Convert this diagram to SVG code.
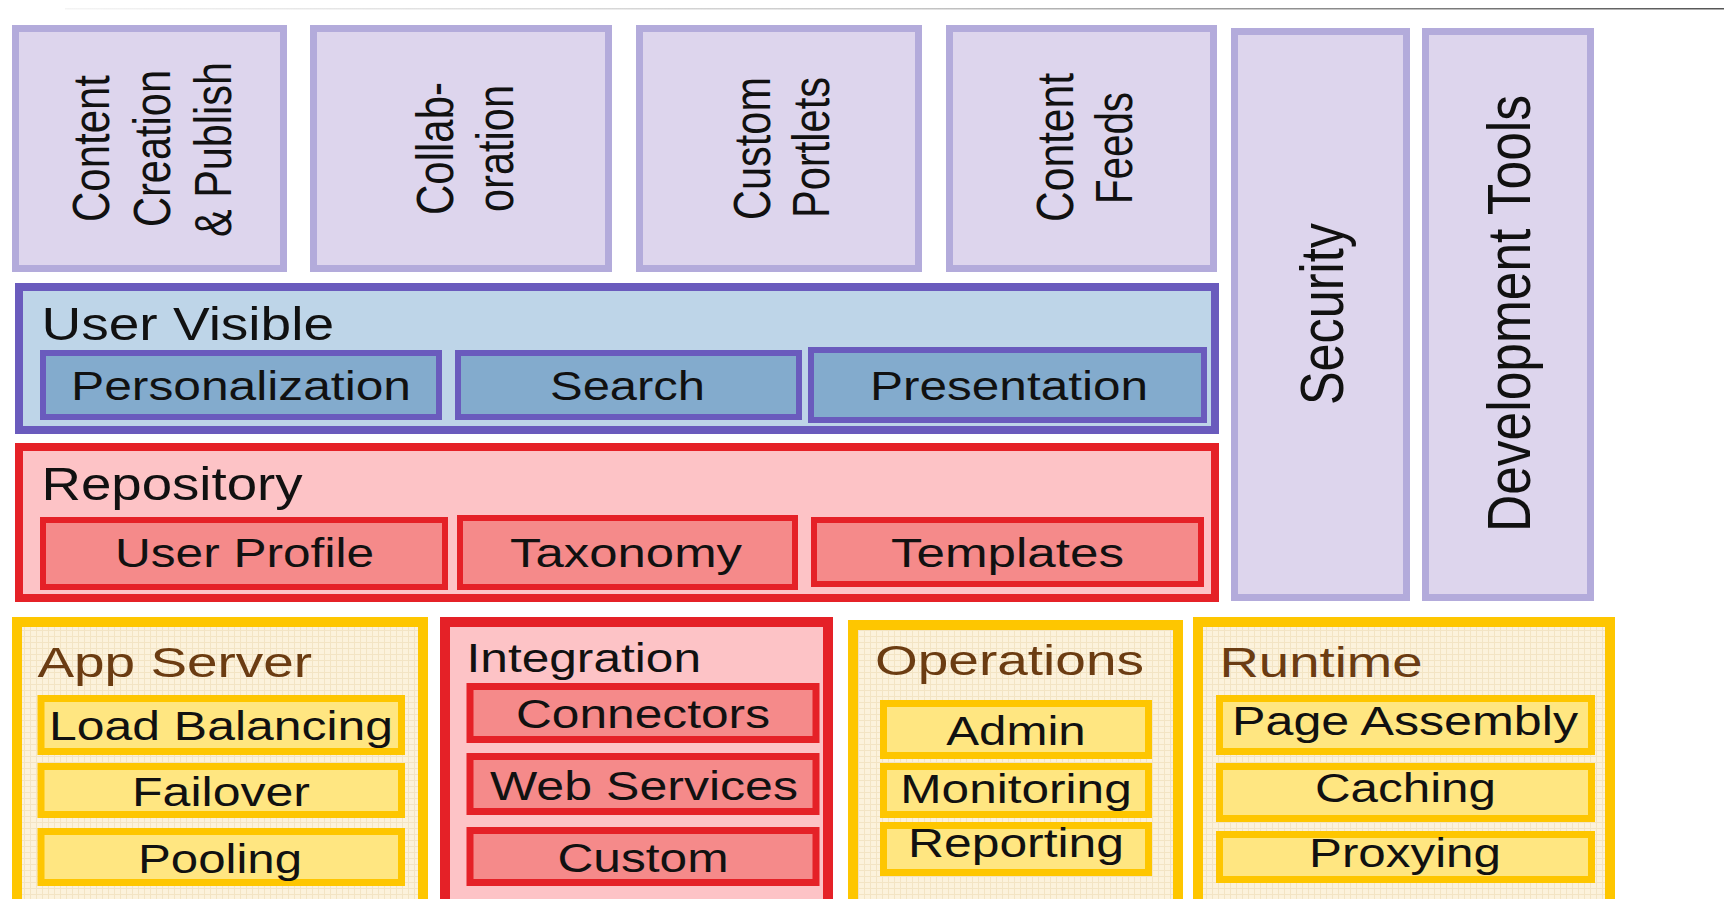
<svg xmlns="http://www.w3.org/2000/svg" width="1724" height="899" viewBox="0 0 1724 899">
<style>
text{font-family:"Liberation Sans",Arial,sans-serif;fill:#111;}
.lav{fill:#ddd5ed;stroke:#b3abdb;stroke-width:7;}
.uv{fill:#bed5e8;stroke:#6a5bbd;stroke-width:8;}
.uvs{fill:#83abcd;stroke:#6a5bbd;stroke-width:6;}
.rep{fill:#fdc3c6;stroke:#e52127;stroke-width:8;}
.reps{fill:#f58a8a;stroke:#e52127;stroke-width:6;}
.intg{fill:#fdc3c6;stroke:#e52127;stroke-width:10;}
.ints{fill:#f58a8a;stroke:#e52127;stroke-width:7;}
.yel{fill:url(#grid);stroke:#fec600;stroke-width:10;}
.yels{fill:#ffe681;stroke:#fec600;stroke-width:7;}
.rot{font-size:52px;}
.big{font-size:61px;}
.h{font-size:46px;}
.s{font-size:40px;}
.y{font-size:42px;fill:#6b3c12;}
</style>
<defs>
<pattern id="grid" width="6" height="6" patternUnits="userSpaceOnUse">
<rect width="6" height="6" fill="#fcf2dc"/>
<path d="M0 0.5H6M0.5 0V6" stroke="#f3e4c4" stroke-width="1"/>
</pattern>
<linearGradient id="topline" x1="0" y1="0" x2="1" y2="0">
<stop offset="0" stop-color="#f4f4f4"/>
<stop offset="0.5" stop-color="#c8c8c8"/>
<stop offset="1" stop-color="#555"/>
</linearGradient>
</defs>
<rect width="1724" height="899" fill="#fff"/>
<rect x="65" y="8" width="1659" height="1.5" fill="url(#topline)"/>

<g id="content-creation">
<rect class="lav" x="15.5" y="28.5" width="268" height="240"/>
<text class="rot" text-anchor="middle" textLength="147" lengthAdjust="spacingAndGlyphs" transform="translate(109,148.5) rotate(-90)">Content</text>
<text class="rot" text-anchor="middle" textLength="157" lengthAdjust="spacingAndGlyphs" transform="translate(170,148.5) rotate(-90)">Creation</text>
<text class="rot" text-anchor="middle" textLength="175" lengthAdjust="spacingAndGlyphs" transform="translate(230.5,149.5) rotate(-90)">&amp; Publish</text>
</g>
<g id="collaboration">
<rect class="lav" x="313.5" y="28.5" width="295" height="240"/>
<text class="rot" text-anchor="middle" textLength="133" lengthAdjust="spacingAndGlyphs" transform="translate(453,148.5) rotate(-90)">Collab-</text>
<text class="rot" text-anchor="middle" textLength="127" lengthAdjust="spacingAndGlyphs" transform="translate(513,148.5) rotate(-90)">oration</text>
</g>
<g id="custom-portlets">
<rect class="lav" x="639.5" y="28.5" width="279" height="240"/>
<text class="rot" text-anchor="middle" textLength="143" lengthAdjust="spacingAndGlyphs" transform="translate(770,148.5) rotate(-90)">Custom</text>
<text class="rot" text-anchor="middle" textLength="141" lengthAdjust="spacingAndGlyphs" transform="translate(829,147.5) rotate(-90)">Portlets</text>
</g>
<g id="content-feeds">
<rect class="lav" x="949.5" y="28.5" width="264" height="240"/>
<text class="rot" text-anchor="middle" textLength="149" lengthAdjust="spacingAndGlyphs" transform="translate(1073,147.5) rotate(-90)">Content</text>
<text class="rot" text-anchor="middle" textLength="112" lengthAdjust="spacingAndGlyphs" transform="translate(1132,148) rotate(-90)">Feeds</text>
</g>
<g id="security">
<rect class="lav" x="1234.5" y="31.5" width="172" height="566"/>
<text class="big" text-anchor="middle" textLength="182" lengthAdjust="spacingAndGlyphs" transform="translate(1343,314) rotate(-90)">Security</text>
</g>
<g id="development-tools">
<rect class="lav" x="1425.5" y="31.5" width="165" height="566"/>
<text class="big" text-anchor="middle" textLength="437" lengthAdjust="spacingAndGlyphs" transform="translate(1530,313.5) rotate(-90)">Development Tools</text>
</g>

<g id="user-visible">
<rect class="uv" x="19" y="287" width="1196" height="143"/>
<text class="h" x="187.75" y="340" text-anchor="middle" textLength="292.5" lengthAdjust="spacingAndGlyphs">User Visible</text>
</g>
<g id="personalization">
<rect class="uvs" x="43" y="353" width="396" height="64"/>
<text class="s" x="241" y="400" text-anchor="middle" textLength="340" lengthAdjust="spacingAndGlyphs">Personalization</text>
</g>
<g id="search">
<rect class="uvs" x="458" y="353" width="341" height="64"/>
<text class="s" x="627.5" y="400" text-anchor="middle" textLength="155" lengthAdjust="spacingAndGlyphs">Search</text>
</g>
<g id="presentation">
<rect class="uvs" x="811" y="350" width="393" height="70"/>
<text class="s" x="1009" y="400" text-anchor="middle" textLength="278" lengthAdjust="spacingAndGlyphs">Presentation</text>
</g>

<g id="repository">
<rect class="rep" x="19" y="447" width="1196" height="151"/>
<text class="h" x="172" y="500" text-anchor="middle" textLength="261" lengthAdjust="spacingAndGlyphs">Repository</text>
</g>
<g id="user-profile">
<rect class="reps" x="43" y="520" width="402" height="67"/>
<text class="s" x="244.5" y="567" text-anchor="middle" textLength="259" lengthAdjust="spacingAndGlyphs">User Profile</text>
</g>
<g id="taxonomy">
<rect class="reps" x="460" y="518" width="335" height="69"/>
<text class="s" x="626" y="567" text-anchor="middle" textLength="232" lengthAdjust="spacingAndGlyphs">Taxonomy</text>
</g>
<g id="templates">
<rect class="reps" x="814" y="520" width="387" height="64"/>
<text class="s" x="1007.5" y="567" text-anchor="middle" textLength="233" lengthAdjust="spacingAndGlyphs">Templates</text>
</g>

<g id="app-server">
<rect class="yel" x="17" y="622" width="406" height="300"/>
<text class="y" x="174.75" y="677" text-anchor="middle" textLength="274.5" lengthAdjust="spacingAndGlyphs">App Server</text>
</g>
<g id="load-balancing">
<rect class="yels" x="41" y="698.5" width="360.5" height="53"/>
<text class="s" x="221" y="740" text-anchor="middle" textLength="344" lengthAdjust="spacingAndGlyphs">Load Balancing</text>
</g>
<g id="failover">
<rect class="yels" x="41" y="766.5" width="360.5" height="48"/>
<text class="s" x="221" y="806" text-anchor="middle" textLength="178" lengthAdjust="spacingAndGlyphs">Failover</text>
</g>
<g id="pooling">
<rect class="yels" x="41" y="831.5" width="360.5" height="51"/>
<text class="s" x="220" y="873" text-anchor="middle" textLength="164" lengthAdjust="spacingAndGlyphs">Pooling</text>
</g>

<g id="integration">
<rect class="intg" x="445" y="622" width="383" height="300"/>
<text class="s" x="583.75" y="672" text-anchor="middle" textLength="234.5" lengthAdjust="spacingAndGlyphs">Integration</text>
</g>
<g id="connectors">
<rect class="ints" x="470" y="686.5" width="346" height="53"/>
<text class="s" x="643" y="728" text-anchor="middle" textLength="254" lengthAdjust="spacingAndGlyphs">Connectors</text>
</g>
<g id="web-services">
<rect class="ints" x="470" y="756.5" width="346" height="55"/>
<text class="s" x="644" y="800" text-anchor="middle" textLength="308" lengthAdjust="spacingAndGlyphs">Web Services</text>
</g>
<g id="custom">
<rect class="ints" x="470" y="830.5" width="346" height="52"/>
<text class="s" x="643" y="872" text-anchor="middle" textLength="171" lengthAdjust="spacingAndGlyphs">Custom</text>
</g>

<g id="operations">
<rect class="yel" x="853" y="625" width="325" height="300"/>
<text class="y" x="1009.5" y="675" text-anchor="middle" textLength="269" lengthAdjust="spacingAndGlyphs">Operations</text>
</g>
<g id="admin">
<rect class="yels" x="883.5" y="703.5" width="265" height="52"/>
<text class="s" x="1016" y="745" text-anchor="middle" textLength="139.5" lengthAdjust="spacingAndGlyphs">Admin</text>
</g>
<g id="monitoring">
<rect class="yels" x="883.5" y="766.5" width="265" height="48"/>
<text class="s" x="1016" y="803" text-anchor="middle" textLength="231.5" lengthAdjust="spacingAndGlyphs">Monitoring</text>
</g>
<g id="reporting">
<rect class="yels" x="883.5" y="825.5" width="265" height="47"/>
<text class="s" x="1016" y="857" text-anchor="middle" textLength="216" lengthAdjust="spacingAndGlyphs">Reporting</text>
</g>

<g id="runtime">
<rect class="yel" x="1198" y="622" width="412" height="300"/>
<text class="y" x="1321" y="677" text-anchor="middle" textLength="203" lengthAdjust="spacingAndGlyphs">Runtime</text>
</g>
<g id="page-assembly">
<rect class="yels" x="1219.5" y="698.5" width="372" height="53"/>
<text class="s" x="1405" y="735" text-anchor="middle" textLength="346" lengthAdjust="spacingAndGlyphs">Page Assembly</text>
</g>
<g id="caching">
<rect class="yels" x="1219.5" y="766.5" width="372" height="52"/>
<text class="s" x="1405.5" y="802" text-anchor="middle" textLength="181" lengthAdjust="spacingAndGlyphs">Caching</text>
</g>
<g id="proxying">
<rect class="yels" x="1219.5" y="834.5" width="372" height="45"/>
<text class="s" x="1405" y="867" text-anchor="middle" textLength="192" lengthAdjust="spacingAndGlyphs">Proxying</text>
</g>
</svg>
